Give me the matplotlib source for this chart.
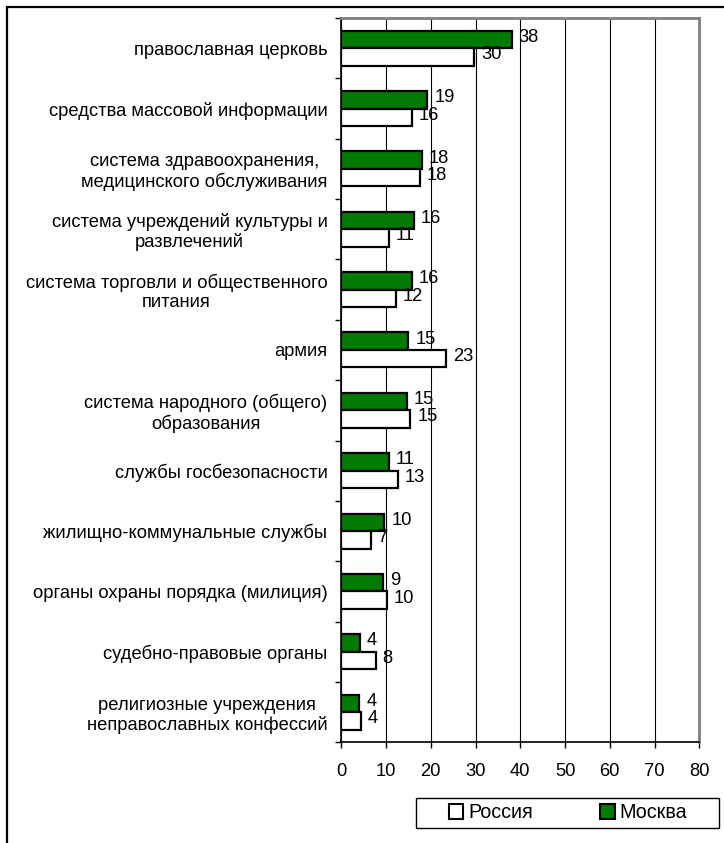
import numpy as np
import matplotlib
matplotlib.use('Agg')
import matplotlib.pyplot as plt
from matplotlib.patches import Patch, Rectangle

plt.rcParams['font.family'] = ['Liberation Sans', 'DejaVu Sans']

categories = [
    'православная церковь',
    'средства массовой информации',
    'система здравоохранения,\nмедицинского обслуживания',
    'система учреждений культуры и\nразвлечений',
    'система торговли и общественного\nпитания',
    'армия',
    'система народного (общего)\nобразования',
    'службы госбезопасности',
    'жилищно-коммунальные службы',
    'органы охраны порядка (милиция)',
    'судебно-правовые органы',
    'религиозные учреждения\nнеправославных конфессий',
]
moscow = [38.1, 19.2, 18.0, 16.2, 15.8, 15.0, 14.6, 10.6, 9.6, 9.4, 4.2, 4.0]
russia = [29.7, 15.8, 17.6, 10.6, 12.2, 23.4, 15.4, 12.6, 6.6, 10.2, 7.7, 4.4]
series_names = ['Россия', 'Москва']
xticks = [0, 10, 20, 30, 40, 50, 60, 70, 80]

GREEN = '#007A00'
FS = 13.2

W, H = 724, 843
fig = plt.figure(figsize=(W / 100, H / 100), dpi=100)
ax = fig.add_axes([341.3 / W, 1 - 742.3 / H, 358 / W, 724.3 / H])

# outer chart frame (cropped at right/bottom)
fig.patches.append(Rectangle((7 / W, -0.1), 1.2, 1 - 7 / H + 0.1, transform=fig.transFigure,
                             fill=False, edgecolor='black', linewidth=1.6))
# legend box
fig.patches.append(Rectangle((416 / W, 1 - 828 / H), 303 / W, 30 / H, transform=fig.transFigure,
                             fill=False, edgecolor='black', linewidth=1))

y = np.arange(len(categories))
h = 0.29
ax.barh(y - h / 2, moscow, height=h, color=GREEN, edgecolor='black', linewidth=1.6, zorder=3)
ax.barh(y + h / 2, russia, height=h, color='white', edgecolor='black', linewidth=1.6, zorder=3)

for i in range(len(categories)):
    ax.annotate(f'{round(moscow[i])}', (moscow[i], y[i] - h / 2), xytext=(5, 1.5),
                textcoords='offset points', va='center', ha='left', fontsize=FS)
    ax.annotate(f'{round(russia[i])}', (russia[i], y[i] + h / 2), xytext=(5, 1.5),
                textcoords='offset points', va='center', ha='left', fontsize=FS)

ax.set_xlim(0, 80)
ax.set_ylim(len(categories) - 0.5, -0.5)
ax.set_xticks(xticks)
ax.set_xticklabels([str(t) for t in xticks], fontsize=FS)
ax.xaxis.grid(True, color='black', linewidth=0.8, zorder=0)
ax.tick_params(axis='x', length=4, width=1, pad=11, direction='out')

ax.set_yticks(np.arange(-0.5, len(categories)), labels=[])
ax.set_yticks(y, minor=True)
ax.set_yticklabels(categories, minor=True, fontsize=FS, multialignment='center',
                   linespacing=1.15)
ax.tick_params(axis='y', which='major', length=4, width=1, direction='out')
ax.tick_params(axis='y', which='minor', length=0, pad=10)

for s in ['top', 'right']:
    ax.spines[s].set_color('#808080')
    ax.spines[s].set_linewidth(2)
for s in ['left', 'bottom']:
    ax.spines[s].set_color('black')
    ax.spines[s].set_linewidth(1.2)

handles = [Patch(facecolor='white', edgecolor='black', linewidth=1.5),
           Patch(facecolor=GREEN, edgecolor='black', linewidth=1.5)]
leg = fig.legend(handles, series_names, loc='center', ncol=2,
                 bbox_to_anchor=(568 / W, 1 - 813 / H), fontsize=FS + 1,
                 frameon=False, handlelength=0.75, handleheight=0.75,
                 handletextpad=0.25, columnspacing=3.4, borderpad=0, borderaxespad=0)

fig.savefig('out.png', dpi=100)
